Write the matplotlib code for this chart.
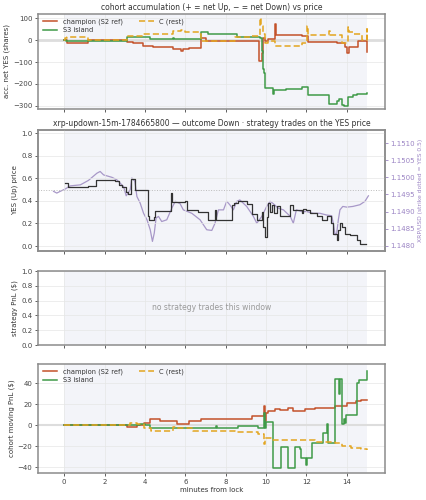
import matplotlib
matplotlib.use("Agg")
import matplotlib.pyplot as plt
import numpy as np

# ---------------- data ----------------
# panel 1: cohort accumulated net YES shares
champ_acc_t = [0, 0.13, 1.2, 3.1, 3.4, 3.9, 4.4, 5.4, 5.8, 5.9, 6.2, 6.8, 7.0, 8.5, 9.65, 9.8, 9.87, 9.95,
               10.1, 10.45, 10.5, 11.8, 12.1, 13.5, 13.9, 14.0, 14.1, 14.55, 14.95, 15.0]
champ_acc_v = [0, -11, 3, -10, -12, -28, -33, -38, -48, -42, -35, 8, -2, -5, -95, -60, 10, -5,
               5, 75, 25, 18, -8, -12, -30, -58, -30, -3, -3, -55]

crest_acc_t = [0, 0.05, 0.15, 1.2, 3.1, 3.3, 3.9, 4.5, 5.4, 5.8, 6.0, 6.7, 6.8, 8.47, 9.3, 9.7, 9.75, 9.87,
               9.95, 10.1, 10.45, 11.8, 12.04, 12.08, 13.1, 13.15, 13.75, 13.85, 14.05, 14.1, 14.3, 14.75, 14.98, 15.0]
crest_acc_v = [0, 10, 15, 3, 20, 18, 30, 30, 40, 45, 38, 30, -3, 15, 20, 100, 65, 30,
               -15, -5, -25, -15, 67, 23, 40, 23, -15, -15, 60, 37, 30, 0, 50, 0]

s3_acc_t = [0, 0.1, 3.1, 4.26, 5.4, 5.45, 6.8, 7.1, 8.55, 9.7, 9.78, 9.83, 9.9, 9.97, 10.36, 10.4, 10.6,
            11.0, 11.77, 12.1, 13.1, 13.5, 13.6, 13.75, 13.85, 14.07, 14.3, 14.5, 15.0]
s3_acc_v = [0, -5, 15, 5, 12, 5, 38, 30, 15, 10, -50, -130, -150, -220, -245, -230, -228,
            -225, -215, -250, -290, -280, -270, -295, -300, -260, -250, -245, -240]

# panel 2: YES (Up) price and XRP/USD
yes_t = [0.05, 0.2, 1.2, 1.55, 2.52, 2.7, 2.85, 3.05, 3.15, 3.3, 3.51, 4.0, 4.15, 4.2, 4.45, 4.5, 5.2, 5.28,
         5.35, 6.0, 6.1, 6.65, 7.1, 7.47, 7.52, 8.3, 8.4, 8.63, 9.04, 9.3, 9.54, 9.79, 9.87, 9.95, 10.03,
         10.1, 10.2, 10.28, 10.4, 10.53, 10.7, 11.2, 11.35, 11.43, 11.77, 11.85, 12.0, 12.2, 12.5, 12.75,
         13.0, 13.2, 13.33, 13.5, 13.58, 13.66, 13.75, 13.9, 14.15, 14.5, 14.65, 14.8, 14.95]
yes_v = [0.56, 0.525, 0.53, 0.585, 0.575, 0.54, 0.52, 0.48, 0.46, 0.59, 0.5, 0.5, 0.27, 0.23, 0.26, 0.31,
         0.31, 0.47, 0.39, 0.40, 0.32, 0.30, 0.23, 0.32, 0.23, 0.36, 0.38, 0.40, 0.37, 0.28, 0.23, 0.30,
         0.17, 0.08, 0.26, 0.38, 0.30, 0.36, 0.29, 0.35, 0.27, 0.36, 0.32, 0.32, 0.29, 0.33, 0.32, 0.29,
         0.27, 0.23, 0.27, 0.20, 0.11, 0.05, 0.14, 0.20, 0.17, 0.11, 0.10, 0.05, 0.02, 0.015, 0.015]

xrp_t = [-0.53, -0.37, -0.2, 0.05, 0.3, 0.8, 1.2, 1.62, 1.78, 1.95, 2.36, 2.6, 2.94, 3.07, 3.27, 3.35,
         3.5, 3.6, 3.76, 3.93, 4.1, 4.26, 4.37, 4.46, 4.55, 4.67, 4.83, 5.08, 5.33, 5.5, 5.74, 5.9, 6.32,
         6.73, 7.06, 7.31, 7.47, 7.64, 7.89, 8.05, 8.2, 8.38, 8.55, 8.7, 9.04, 9.37, 9.54, 9.79, 10.03,
         10.2, 10.36, 10.6, 10.86, 11.2, 11.35, 11.5, 11.77, 12.0, 12.34, 12.67, 13.0, 13.25, 13.33,
         13.42, 13.5, 13.58, 13.66, 13.8, 14.0, 14.3, 14.65, 14.9, 15.07]
xrp_v = [1.14959, 1.14954, 1.14959, 1.14966, 1.14975, 1.14978, 1.14991, 1.15012, 1.15017, 1.15007,
         1.15000, 1.14993, 1.14973, 1.14946, 1.14964, 1.14998, 1.14988, 1.14944, 1.14925, 1.14895,
         1.14876, 1.14847, 1.14813, 1.14837, 1.14881, 1.14886, 1.14871, 1.14876, 1.14910, 1.14930,
         1.14923, 1.14905, 1.14895, 1.14876, 1.14847, 1.14845, 1.14866, 1.14905, 1.14905, 1.14930,
         1.14920, 1.14905, 1.14930, 1.14934, 1.14915, 1.14886, 1.14866, 1.14886, 1.14915, 1.14930,
         1.14923, 1.14910, 1.14905, 1.14886, 1.14866, 1.14905, 1.14900, 1.14900, 1.14895, 1.14895,
         1.14890, 1.14888, 1.14866, 1.14832, 1.14837, 1.14876, 1.14905, 1.14915, 1.14913, 1.14915,
         1.14920, 1.14930, 1.14946]
strike_yes = 0.5

# panel 4: cohort moving PnL ($)
champ_pnl_t = [0, 3.1, 3.6, 3.93, 4.25, 4.75, 5.6, 6.2, 6.8, 9.3, 9.92, 9.95, 10.0, 10.08, 10.42, 10.67,
               11.08, 11.33, 11.92, 12.42, 13.42, 14.0, 14.45, 14.7, 15.0]
champ_pnl_v = [0, -2, 0, 2, 6, 4, 1, 4, 6, 9, 18, 4, 12, 13.6, 15.5, 14.6, 16.6, 14, 15.5, 16.5, 18,
               21, 23, 24, 24.5]

crest_pnl_t = [0, 3.27, 3.6, 3.95, 4.3, 5.4, 5.6, 6.4, 8.46, 9.6, 9.92, 9.96, 10.08, 10.25, 12.4, 13.42,
               13.75, 14.2, 14.7, 15.0]
crest_pnl_v = [0, 2, 1, -3, -5, -2, -3, -5, -6, -8, -18, -12, -11.7, -14, -15.7, -17, -20, -22, -23, -24]

s3_pnl_t = [0, 3.76, 4.0, 4.26, 7.5, 7.55, 8.6, 9.6, 9.9, 9.95, 10.0, 10.33, 10.75, 11.08, 11.42, 11.67,
            11.75, 12.0, 12.05, 12.28, 12.83, 13.0, 13.05, 13.42, 13.6, 13.65, 13.78, 13.85, 13.9, 13.95,
            14.49, 14.62, 14.98]
s3_pnl_v = [0, 1, 0, -3, -1, -3, -1, -3, 12, -3, 3, -41, -21, -41, -21, -23, -31, -38, -31, -17, -7.6,
            1, -17, 44, 30, 44, 1.5, 6, 2, 10, 40, 43, 52]

c_champ = "#c4522a"
c_crest = "#e3a520"
c_s3 = "#3f9a48"
c_xrp = "#a898c8"
shade = "#f3f4f9"
spine_c = "#8c8c8c"

plt.rcParams.update({
    "font.family": ["DejaVu Sans"],
    "font.size": 5,
    "axes.titlesize": 5.5,
    "axes.labelsize": 5,
    "xtick.labelsize": 5,
    "ytick.labelsize": 5,
    "axes.edgecolor": spine_c,
    "axes.linewidth": 1.1,
    "xtick.color": "#444444",
    "ytick.color": "#444444",
    "xtick.major.size": 2.5,
    "ytick.major.size": 2.5,
    "xtick.major.width": 0.6,
    "ytick.major.width": 0.6,
    "xtick.major.pad": 1.5,
    "ytick.major.pad": 1.5,
    "axes.labelcolor": "#333333",
    "text.color": "#333333",
})

fig = plt.figure(figsize=(4.27, 5.0), dpi=100)
L, W = 0.089, 0.813
ax1 = fig.add_axes([L, 0.782, W, 0.19])
ax2 = fig.add_axes([L, 0.498, W, 0.242], sharex=ax1)
ax3 = fig.add_axes([L, 0.31, W, 0.148], sharex=ax1)
ax4 = fig.add_axes([L, 0.054, W, 0.218], sharex=ax1)

for ax in (ax1, ax3, ax4):
    ax.axvspan(0, 15, color=shade, zorder=0, lw=0)
for ax in (ax1, ax2, ax3, ax4):
    ax.grid(True, color="#e6e6e6", lw=0.5, zorder=0.5)
    ax.set_axisbelow(True)

lw = 1.1
# panel 1
ax1.axhline(0, color="#dddddd", lw=2, zorder=1)
ax1.plot(champ_acc_t, champ_acc_v, drawstyle="steps-post", color=c_champ, lw=lw, label="champion (S2 ref)", zorder=3)
ax1.plot(s3_acc_t, s3_acc_v, drawstyle="steps-post", color=c_s3, lw=lw, label="S3 island", zorder=3)
ax1.plot(crest_acc_t, crest_acc_v, drawstyle="steps-post", color=c_crest, lw=lw, ls=(0, (4, 2)), label="C (rest)", zorder=3)
ax1.set_ylim(-315, 120)
ax1.set_yticks([-300, -200, -100, 0, 100])
ax1.set_ylabel("acc. net YES (shares)", labelpad=2)
ax1.set_title("cohort accumulation (+ = net Up, \u2212 = net Down) vs price", pad=3)
ax1.legend(loc="upper left", ncol=2, frameon=False,
           fontsize=4.8, handlelength=2.2, columnspacing=2.5, borderaxespad=0.3, labelspacing=0.3)

# panel 2 (right axis carries the shading & XRP line, left axis on top)
ax2r = ax2.twinx()
ax2r.axvspan(0, 15, color=shade, zorder=0, lw=0)
ax2r.plot(xrp_t, xrp_v, color=c_xrp, lw=0.9, zorder=2)
ax2r.set_ylim(1.14785, 1.15138)
ticks_r = [1.1480, 1.1485, 1.1490, 1.1495, 1.1500, 1.1505, 1.1510]
ax2r.set_yticks(ticks_r)
ax2r.set_yticklabels([f"{v:.4f}" for v in ticks_r])
ax2r.tick_params(axis="y", colors="#9b84c4", labelsize=5)
ax2r.set_ylabel("XRP/USD (strike dotted = YES 0.5)", color="#9b84c4", fontsize=4.3, labelpad=2)
for s in ax2r.spines.values():
    s.set_color(spine_c)
ax2.set_zorder(ax2r.get_zorder() + 1)
ax2.patch.set_visible(False)
ax2.axhline(strike_yes, color="#bbbbbb", lw=0.7, ls=":", zorder=1)
ax2.plot(yes_t, yes_v, drawstyle="steps-post", color="#333333", lw=0.9, zorder=3)
ax2.set_ylim(-0.044, 1.027)
ax2.set_yticks([0, 0.2, 0.4, 0.6, 0.8, 1.0])
ax2.set_ylabel("YES (Up) price", labelpad=2)
ax2.set_title("xrp-updown-15m-1784665800 \u2014 outcome Down \u00b7 strategy trades on the YES price", pad=3)

# panel 3
ax3.set_ylim(0, 1)
ax3.set_yticks([0, 0.2, 0.4, 0.6, 0.8, 1.0])
ax3.set_ylabel("strategy PnL ($)", labelpad=2)
ax3.text(0.5, 0.5, "no strategy trades this window", transform=ax3.transAxes, ha="center", va="center",
         color="#999999", fontsize=5.5)

# panel 4
ax4.axhline(0, color="#dddddd", lw=1.5, zorder=1)
ax4.plot(champ_pnl_t, champ_pnl_v, drawstyle="steps-post", color=c_champ, lw=lw, label="champion (S2 ref)", zorder=3)
ax4.plot(s3_pnl_t, s3_pnl_v, drawstyle="steps-post", color=c_s3, lw=lw, label="S3 island", zorder=3)
ax4.plot(crest_pnl_t, crest_pnl_v, drawstyle="steps-post", color=c_crest, lw=lw, ls=(0, (4, 2)), label="C (rest)", zorder=3)
ax4.set_ylim(-45.5, 58.5)
ax4.set_yticks([-40, -20, 0, 20, 40])
ax4.set_ylabel("cohort moving PnL ($)", labelpad=2)
ax4.set_xlabel("minutes from lock", labelpad=2)
ax4.legend(loc="upper left", ncol=2, frameon=False, fontsize=4.8, handlelength=2.2,
           columnspacing=2.5, borderaxespad=0.3, labelspacing=0.3)

ax1.set_xlim(-1.3, 15.9)
ax1.set_xticks([0, 2, 4, 6, 8, 10, 12, 14])
for ax in (ax1, ax2, ax3):
    plt.setp(ax.get_xticklabels(), visible=False)

fig.savefig("out.png", dpi=100)
